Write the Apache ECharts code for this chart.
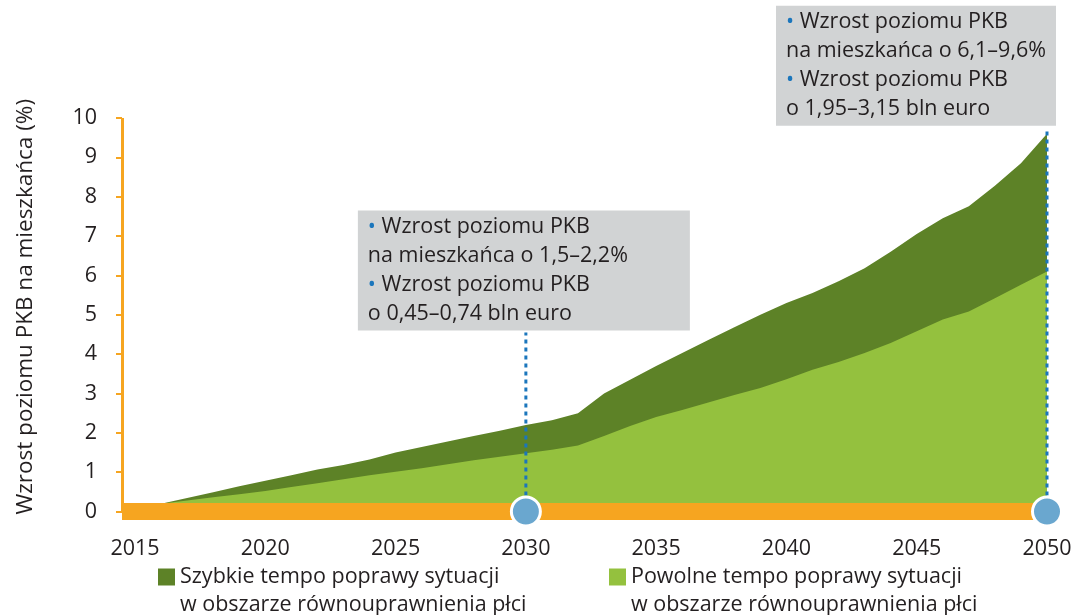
<!DOCTYPE html>
<html>
<head>
<meta charset="utf-8">
<script src="https://cdn.jsdelivr.net/npm/echarts@6/dist/echarts.min.js"></script>
<style>
html,body{margin:0;padding:0;background:#fff;}
#chart{width:1078px;height:615px;}
</style>
</head>
<body>
<div id="chart"></div>
<script>
// ---- data ----
const years = [2016,2017,2018,2019,2020,2021,2022,2023,2024,2025,2026,2027,2028,2029,2030,2031,2032,2033,2034,2035,2036,2037,2038,2039,2040,2041,2042,2043,2044,2045,2046,2047,2048,2049,2050];
const fastValues = [0.2,0.34,0.49,0.64,0.78,0.92,1.07,1.18,1.32,1.50,1.64,1.78,1.92,2.05,2.2,2.32,2.50,3.0,3.35,3.7,4.03,4.36,4.68,5.0,5.3,5.55,5.85,6.18,6.6,7.05,7.45,7.76,8.28,8.85,9.6];
const slowValues = [0.2,0.28,0.36,0.44,0.52,0.62,0.72,0.82,0.92,1.01,1.10,1.2,1.3,1.39,1.48,1.57,1.68,1.92,2.17,2.40,2.58,2.77,2.96,3.14,3.36,3.6,3.8,4.03,4.28,4.58,4.88,5.08,5.42,5.76,6.1];
const xTickLabels = [2015,2020,2025,2030,2035,2040,2045,2050];
const seriesNames = ['Szybkie tempo poprawy sytuacji\nw obszarze równouprawnienia płci','Powolne tempo poprawy sytuacji\nw obszarze równouprawnienia płci'];
const markerYears = [2030, 2050];
const annotationTop = [4.55, 9.75];
const annotationTexts = [
  ['Wzrost poziomu PKB','na mieszkańca o 1,5–2,2%','Wzrost poziomu PKB','o 0,45–0,74 bln euro'],
  ['Wzrost poziomu PKB','na mieszkańca o 6,1–9,6%','Wzrost poziomu PKB','o 1,95–3,15 bln euro']
];
const yAxisTitle = 'Wzrost poziomu PKB na mieszkańca (%)';

// ---- styles ----
const FONT = 'Open Sans';
const TXT = '#231f20';
const ORANGE = '#f6a520';
const DARK = '#5d8227';
const LIGHT = '#94c13e';
const BLUE = '#6aa7cf';
const DOT = '#1b76bc';
const BOX = '#d1d3d4';
const FS = 21.5;

const fastData = years.map((y,i)=>[y,fastValues[i]]);
const slowData = years.map((y,i)=>[y,slowValues[i]]);

function annText(lines){
  return '{d|•} ' + lines[0] + '\n' + lines[1] + '\n{d|•} ' + lines[2] + '\n' + lines[3];
}

const legendCommon = {
  icon: 'rect', itemWidth: 17, itemHeight: 17, itemGap: 0,
  formatter: name => '\n' + name,
  textStyle: {fontSize: FS, color: TXT, fontFamily: FONT, lineHeight: 28}
};

const chart = echarts.init(document.getElementById('chart'));
const option = {
  animation: false,
  textStyle: {fontFamily: FONT, color: TXT},
  grid: {left: 122, right: 31, top: 118, bottom: 103.5, containLabel: false},
  xAxis: {
    type: 'value', min: 2014.5, max: 2050, z: 3,
    axisLine: {onZero: true, lineStyle: {color: ORANGE, width: 17, cap: 'butt'}},
    axisTick: {show: false},
    splitLine: {show: false},
    axisLabel: {customValues: xTickLabels, fontSize: FS, color: TXT, margin: 26, fontFamily: FONT, formatter: v => String(v)}
  },
  yAxis: {
    type: 'value', min: 0, max: 10, interval: 1,
    name: yAxisTitle, nameLocation: 'middle', nameGap: 85,
    nameTextStyle: {fontSize: 22.5, color: TXT, fontFamily: FONT, padding: [0,0,0,16]},
    axisLine: {show: true, lineStyle: {color: ORANGE, width: 3, cap: 'butt'}},
    axisTick: {show: true, length: 6, lineStyle: {color: ORANGE, width: 2}},
    splitLine: {show: false},
    axisLabel: {fontSize: FS, color: TXT, margin: 25, fontFamily: FONT}
  },
  legend: [
    Object.assign({data: [seriesNames[0]], left: 153, top: 530}, legendCommon),
    Object.assign({data: [seriesNames[1]], left: 604, top: 530}, legendCommon)
  ],
  series: [
    {name: seriesNames[0], type: 'line', data: fastData, showSymbol: false, z: 1,
     lineStyle: {width: 0, color: DARK}, itemStyle: {color: DARK}, areaStyle: {color: DARK, opacity: 1}},
    {name: seriesNames[1], type: 'line', data: slowData, showSymbol: false, z: 2,
     lineStyle: {width: 0, color: LIGHT}, itemStyle: {color: LIGHT}, areaStyle: {color: LIGHT, opacity: 1}},
    {type: 'line', data: [[markerYears[0],0],[markerYears[0],annotationTop[0]]], showSymbol: false, z: 4, silent: true,
     lineStyle: {color: DOT, width: 3, type: [4,4]}},
    {type: 'line', data: [[markerYears[1],0],[markerYears[1],annotationTop[1]]], showSymbol: false, z: 4, silent: true,
     lineStyle: {color: DOT, width: 3, type: [4,4]}},
    {type: 'scatter', data: markerYears.map(y=>[y,0]), symbolSize: 29, z: 6, silent: true,
     itemStyle: {color: BLUE, borderColor: '#fff', borderWidth: 3, opacity: 1}},
    {type: 'scatter', z: 7, silent: true, symbolSize: 0,
     itemStyle: {opacity: 1},
     data: [
       {value: [markerYears[0], annotationTop[0]], label: {offset: [-168,0], width: 312}},
       {value: [markerYears[1], annotationTop[1]], label: {offset: [-271,0], width: 260}}
     ].map((d,i)=>Object.assign(d,{label: Object.assign({
       show: true, position: 'top', distance: 2, formatter: annText(annotationTexts[i]),
       backgroundColor: BOX, padding: [2,10,2,10], align: 'left',
       fontSize: FS, lineHeight: 29, color: TXT, fontFamily: FONT, opacity: 1,
       rich: {d: {color: DOT, fontSize: FS, lineHeight: 29, fontFamily: FONT}}
     }, d.label)}))
    }
  ]
};
chart.setOption(option);
</script>
</body>
</html>
